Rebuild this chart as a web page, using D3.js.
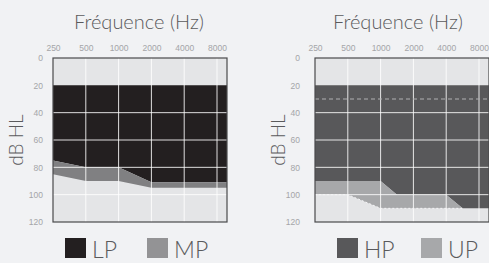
<!DOCTYPE html>
<html>
<head>
<meta charset="utf-8">
<title>Audiogrammes</title>
<script src="https://d3js.org/d3.v7.min.js"></script>
<style>
body {margin:0; background:#f1f2f4;}
svg {display:block; font-family:"Lato","Open Sans",sans-serif;}
.tick text {fill:#a4a5a8; font-size:8.5px; font-weight:300;}
.ttl {fill:#5a5a5c; font-size:20px; font-weight:300;}
.ylab {fill:#5a5a5c; font-size:19px; font-weight:300;}
.leg {fill:#5a5a5c; font-size:23px; font-weight:300;}
</style>
</head>
<body>
<svg id="chart" width="489" height="263"></svg>
<script>
// frequency ticks and dB ticks
var freqTicks = [250, 500, 1000, 2000, 4000, 8000];
var dbTicks = [0, 20, 40, 60, 80, 100, 120];

// left audiogram (LP / MP)
var leftFreqs = [250, 500, 1000, 2000, 4000, 8000, 16000];
var lpTop    = [20, 20, 20, 20, 20, 20, 20];
var lpBottom = [75, 80, 80, 91, 91, 91, 91];
var mpBottom = [85, 90, 90, 95, 95, 95, 95];

// right audiogram (HP / UP)
var rightFreqs = [250, 500, 1000, 1414, 2000, 4000, 5657, 8000, 16000];
var hpTop    = [20, 20, 20, 20, 20, 20, 20, 20, 20];
var hpBottom = [90, 90, 90, 100, 100, 100, 110, 110, 110];
var upBottom = [100, 100, 110, 110, 110, 110, 110, 110, 110];
var dashLevel = 30;

var svg = d3.select("#chart");
var W = 174, H = 164;
var x = d3.scaleLog().base(2).domain([250, 8000]).range([0, 164]);
var y = d3.scaleLinear().domain([0, 120]).range([0, H]);

function band(freqs, top, bottom) {
    return d3.area()
        .x((d, i) => x(freqs[i]))
        .y0((d, i) => y(top[i]))
        .y1((d, i) => y(bottom[i]))(freqs);
}

function drawChart(cfg) {
    var g = svg.append("g").attr("transform", "translate(" + cfg.left + ",58)");

    var clipId = "clip" + cfg.left;
    g.append("clipPath").attr("id", clipId)
        .append("rect").attr("width", W).attr("height", H);

    var p = g.append("g").attr("clip-path", "url(#" + clipId + ")");
    p.append("rect").attr("width", W).attr("height", H).attr("fill", "#e4e5e7");

    cfg.bands.forEach(b => {
        p.append("path").attr("d", band(cfg.freqs, b.top, b.bottom)).attr("fill", b.color);
    });

    // grid
    p.selectAll(".vg").data(freqTicks.slice(1)).join("line")
        .attr("x1", d => x(d)).attr("x2", d => x(d))
        .attr("y1", 0).attr("y2", H)
        .attr("stroke", "#fff").attr("stroke-opacity", 0.85);
    p.selectAll(".hg").data([40, 60, 80, 100]).join("line")
        .attr("x1", 0).attr("x2", W)
        .attr("y1", d => y(d)).attr("y2", d => y(d))
        .attr("stroke", "#fff").attr("stroke-opacity", 0.85);

    if (cfg.extra) cfg.extra(p);

    g.append("rect").attr("width", W).attr("height", H)
        .attr("fill", "none").attr("stroke", "#4a4a4c").attr("stroke-width", 1.2);

    // axes
    var ax = g.append("g").attr("transform", "translate(0,-4)")
        .call(d3.axisTop(x).tickValues(freqTicks).tickSize(0).tickFormat(d3.format("d")));
    ax.select(".domain").remove();

    var ay = g.append("g").attr("transform", "translate(" + (-cfg.yGap) + ",0)")
        .call(d3.axisLeft(y).tickValues(dbTicks).tickSize(0).tickPadding(0));
    ay.select(".domain").remove();

    g.append("text").attr("class", "ttl")
        .attr("x", cfg.titleX).attr("y", -29).attr("text-anchor", "middle")
        .text("Fréquence (Hz)");

    g.append("text").attr("class", "ylab")
        .attr("transform", "translate(-30," + (H / 2) + ") rotate(-90)")
        .attr("text-anchor", "middle").text("dB HL");

    cfg.legend.forEach(l => {
        g.append("rect").attr("x", l.x).attr("y", 180).attr("width", 21).attr("height", 20)
            .attr("fill", l.color);
        g.append("text").attr("class", "leg").attr("x", l.x + 27).attr("y", 200).text(l.name);
    });
}

drawChart({
    left: 53, yGap: 10, titleX: 86, freqs: leftFreqs,
    bands: [
        {top: lpTop, bottom: lpBottom, color: "#231f20"},
        {top: lpBottom, bottom: mpBottom, color: "#808082"}
    ],
    legend: [{name: "LP", color: "#231f20", x: 12}, {name: "MP", color: "#939395", x: 94}]
});

drawChart({
    left: 315, yGap: 15, titleX: 83, freqs: rightFreqs,
    bands: [
        {top: hpTop, bottom: hpBottom, color: "#58585a"},
        {top: hpBottom, bottom: upBottom, color: "#a7a8aa"}
    ],
    legend: [{name: "HP", color: "#58585a", x: 22}, {name: "UP", color: "#a7a8aa", x: 106}],
    extra: function (p) {
        p.append("line").attr("x1", 0).attr("x2", W)
            .attr("y1", y(dashLevel)).attr("y2", y(dashLevel))
            .attr("stroke", "#b0b0b2").attr("stroke-dasharray", "4,3");
        var line = d3.line()
            .defined((d, i) => i === 0 || upBottom[i - 1] > hpBottom[i - 1])
            .x((d, i) => x(rightFreqs[i]))
            .y((d, i) => y(upBottom[i]));
        p.append("path").attr("d", line(rightFreqs)).attr("fill", "none")
            .attr("stroke", "#f4f4f6").attr("stroke-dasharray", "2,2");
    }
});
</script>
</body>
</html>
